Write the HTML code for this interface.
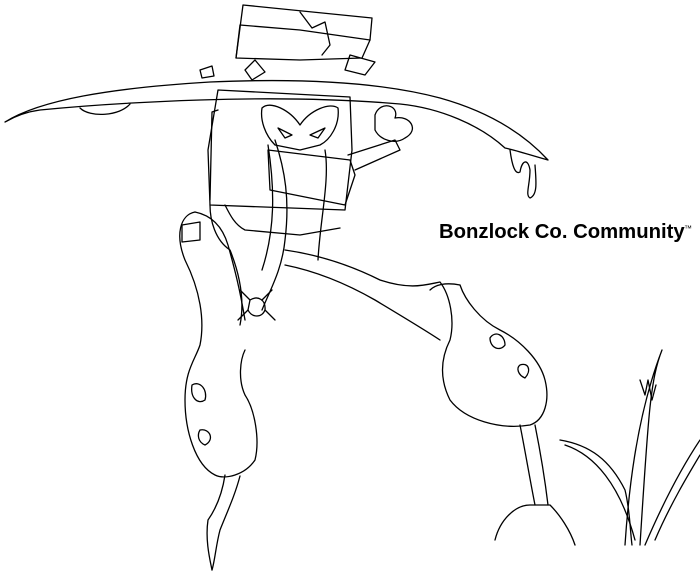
<!DOCTYPE html>
<html><head><meta charset="utf-8"><style>
html,body{margin:0;padding:0;background:#fff;width:700px;height:577px;overflow:hidden}
svg{display:block}
</style></head><body>
<svg width="700" height="577" viewBox="0 0 700 577" xmlns="http://www.w3.org/2000/svg">
<g fill="none" stroke="#000" stroke-width="1.3" stroke-linejoin="round" stroke-linecap="round">
<path d="M243 5 L372 18 L370 40 L362 58 L300 60 L236 58 Z"/>
<path d="M236 58 L240 25 L300 30 L370 40"/>
<path d="M300 12 L312 28 L325 22 L330 45 L322 55"/>
<path d="M255 60 L245 70 L252 80 L265 72 Z"/>
<path d="M350 55 L375 62 L365 75 L345 70 Z"/>
<path d="M5 122 C40 100 110 88 210 82 C300 78 380 82 440 98 C490 112 525 135 548 160 C530 155 515 150 505 148 C480 125 440 108 400 104 C330 98 260 98 200 100 C140 102 90 105 40 110 C25 112 12 118 5 122 Z"/>
<path d="M80 108 C90 118 120 116 130 104"/>
<path d="M200 70 L212 66 L214 76 L202 78 Z"/>
<path d="M510 150 C512 165 515 175 520 172 C522 160 528 158 530 170 C530 185 525 195 530 198 C538 195 536 180 535 165"/>
<path d="M218 90 L350 97 L352 150 L345 210 L210 205 L208 150 Z"/>
<path d="M218 110 L212 112 L210 200"/>
<path d="M262 108 C270 100 290 110 300 125 C310 110 330 102 338 108 C340 125 330 140 320 145 L300 150 L275 145 C265 135 260 120 262 108 Z"/>
<path d="M278 128 L292 135 L285 138 Z M310 135 L325 128 L318 138 Z"/>
<path d="M268 150 L350 160 L355 175 L345 205 L320 200 L270 190 Z"/>
<path d="M348 155 L395 140 L400 150 L355 170"/>
<path d="M375 115 C380 100 400 105 395 118 C410 115 420 130 405 138 C395 145 380 140 375 130 Z"/>
<path d="M275 140 C285 170 290 200 285 240 C282 270 270 290 262 310"/>
<path d="M325 150 C330 180 320 220 318 260"/>
<path d="M268 145 C275 190 275 230 262 270"/>
<path d="M225 205 C230 215 235 225 245 230 L300 235 L340 228"/>
<path d="M210 205 C210 220 215 240 230 250 C240 275 245 300 240 325"/>
<path d="M195 212 C180 215 175 235 185 260 C200 290 205 320 200 345 C195 360 185 370 185 400 C185 430 195 465 215 475 C225 480 245 475 255 460 C260 440 255 410 245 395 C238 380 240 360 245 350"/>
<path d="M195 212 C210 215 222 225 228 245 C235 270 240 290 245 320"/>
<path d="M225 475 C222 495 215 510 208 520 C205 540 210 560 212 570"/>
<path d="M240 476 C235 495 228 510 220 530 C216 545 215 560 212 570"/>
<path d="M182 225 L200 222 L200 240 L182 242 Z"/>
<path d="M192 385 C200 380 208 390 205 400 C198 405 190 398 192 385 Z"/>
<path d="M200 430 C210 428 215 440 205 445 C198 442 197 435 200 430 Z"/>
<path d="M250 300 C258 295 266 300 265 310 C262 318 252 318 248 310 Z"/>
<path d="M250 300 L240 290 M262 300 L272 290 M248 310 L238 320 M265 310 L275 320"/>
<path d="M285 250 C320 255 350 265 380 280 C410 290 425 285 440 282 C450 295 455 320 450 340 C440 360 440 380 450 400 C465 420 500 430 530 425 C545 420 550 400 545 380 C540 360 520 340 500 330 C480 320 465 300 460 285"/>
<path d="M285 265 C310 270 340 280 375 300 C400 315 425 330 440 340"/>
<path d="M460 285 C445 282 435 285 430 290"/>
<path d="M490 338 C495 330 505 335 505 345 C500 352 490 348 490 338 Z"/>
<path d="M520 365 C528 362 532 370 525 378 C518 375 516 368 520 365 Z"/>
<path d="M520 425 C525 450 530 480 535 505"/>
<path d="M535 425 C540 450 545 480 548 505"/>
<path d="M495 540 C500 520 515 505 530 505 L550 505 C560 515 570 530 575 545"/>
<path d="M560 440 C590 445 610 460 625 490 C630 510 630 530 632 545"/>
<path d="M565 445 C595 455 620 485 635 540"/>
<path d="M625 545 C628 500 635 420 662 350 C650 380 648 420 640 545"/>
<path d="M640 380 L645 395 L648 380 L652 400 L656 385"/>
<path d="M645 545 C660 510 680 470 700 440"/>
<path d="M655 540 C670 505 688 475 700 455"/>
</g>
<text x="439" y="238" font-family="Liberation Sans, sans-serif" font-weight="bold" font-size="20.3" fill="#000">Bonzlock Co. Community</text>
<text x="684" y="231" font-family="Liberation Sans, sans-serif" font-size="8" fill="#000">™</text>
</svg>
</body></html>
